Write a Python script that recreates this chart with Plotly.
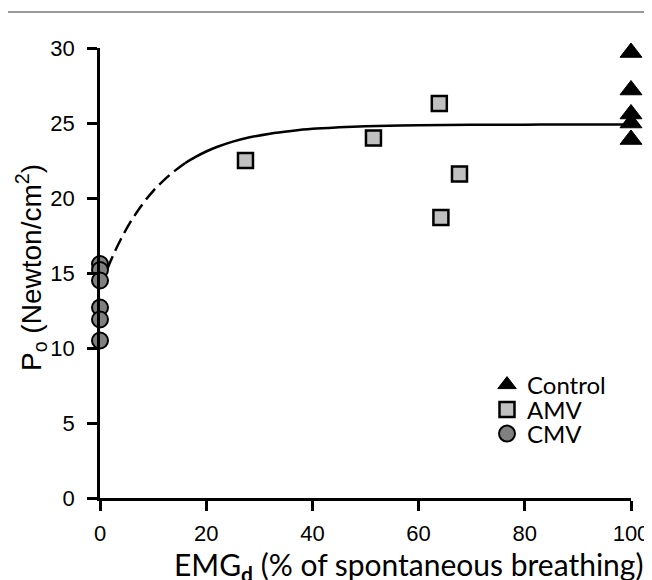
import plotly.graph_objects as go

# Data
control_x = [100, 100, 100, 100, 100]
control_y = [29.7, 27.2, 25.6, 25.0, 23.9]

amv_x = [27.4, 51.5, 63.9, 64.2, 67.7]
amv_y = [22.5, 24.0, 26.3, 18.7, 21.6]

cmv_x = [0, 0, 0, 0, 0, 0]
cmv_y = [15.6, 15.2, 14.5, 12.7, 11.9, 10.5]

# Fitted curve
fit_dash_x = [0, 2, 4, 6, 8, 10, 12, 14, 16]
fit_dash_y = [14.0, 15.80, 17.30, 18.55, 19.59, 20.46, 21.18, 21.79, 22.32]
fit_solid_x = [16, 18, 20, 22, 25, 28, 32, 36, 40, 45, 50, 60, 70, 80, 90, 100]
fit_solid_y = [22.32, 22.74, 23.10, 23.40, 23.76, 24.03, 24.29, 24.47, 24.61, 24.71,
               24.78, 24.85, 24.88, 24.89, 24.90, 24.90]

x_ticks = [0, 20, 40, 60, 80, 100]
y_ticks = [0, 5, 10, 15, 20, 25, 30]

OFF = 8  # page body margin
W, H = 644, 572
L, R, T, B = 100 - OFF, 21, 48 - OFF, 82
PW, PH = W - L - R, H - T - B


def px_x(p):
    return (p - OFF - L) / PW


def px_y(p):
    return (H - B - (p - OFF)) / PH


fig = go.Figure()

fig.add_trace(go.Scatter(x=fit_dash_x, y=fit_dash_y, mode="lines", line_shape="spline",
                         line=dict(color="black", width=2.5, dash="14px,6px"),
                         showlegend=False, hoverinfo="skip"))
fig.add_trace(go.Scatter(x=fit_solid_x, y=fit_solid_y, mode="lines", line_shape="spline",
                         line=dict(color="black", width=2.5),
                         showlegend=False, hoverinfo="skip"))

fig.add_trace(go.Scatter(x=control_x, y=control_y, mode="markers", name="Control",
                         marker=dict(symbol="triangle-up", size=19, color="black",
                                     line=dict(color="black", width=1)),
                         cliponaxis=False, legend="legend"))
fig.add_trace(go.Scatter(x=amv_x, y=amv_y, mode="markers", name="AMV",
                         marker=dict(symbol="square", size=15, color="#c0c0c0",
                                     line=dict(color="black", width=2.5)),
                         cliponaxis=False, legend="legend2"))
fig.add_trace(go.Scatter(x=cmv_x, y=cmv_y, mode="markers", name="CMV",
                         marker=dict(symbol="circle", size=16, color="#808080",
                                     line=dict(color="black", width=2)),
                         cliponaxis=False, legend="legend3"))

leg_font = dict(family="Lato, Open Sans", size=24, color="black")
leg_common = dict(x=px_x(487), xanchor="left", yanchor="middle", font=leg_font,
                  bgcolor="rgba(0,0,0,0)")

fig.update_layout(
    template="none",
    width=W, height=H,
    margin=dict(l=L, r=R, t=T, b=B),
    paper_bgcolor="white", plot_bgcolor="white",
    font=dict(family="Liberation Sans, Arial", color="black", size=22),
    showlegend=True,
    legend=dict(y=px_y(385), **leg_common),
    legend2=dict(y=px_y(410), **leg_common),
    legend3=dict(y=px_y(434), **leg_common),
    shapes=[dict(type="line", xref="paper", yref="paper",
                 x0=px_x(8), x1=px_x(652), y0=px_y(12), y1=px_y(12),
                 line=dict(color="#777777", width=1.5))],
    annotations=[
        dict(text="EMG<sub><b>d</b></sub> (% of spontaneous breathing)",
             xref="paper", yref="paper", x=px_x(408), y=px_y(566),
             xanchor="center", yanchor="middle", showarrow=False,
             font=dict(family="Lato, Open Sans", size=30, color="black")),
        dict(text="P<sub>o</sub> (Newton/cm<sup>2</sup>)",
             xref="paper", yref="paper", x=px_x(31), y=px_y(268),
             xanchor="center", yanchor="middle", showarrow=False, textangle=-90,
             font=dict(family="Liberation Sans, Arial", size=28, color="black")),
    ],
)

fig.update_xaxes(range=[0, 100], tickvals=x_ticks, ticks="outside", ticklen=10, tickwidth=2.5,
                 tickcolor="black", showline=True, linecolor="black", linewidth=2.5,
                 showgrid=False, zeroline=False, automargin=False,
                 tickfont=dict(size=22, color="black"), ticklabelstandoff=4)
fig.update_yaxes(range=[0, 30], tickvals=y_ticks, ticks="outside", ticklen=10, tickwidth=2.5,
                 tickcolor="black", showline=True, linecolor="black", linewidth=2.5,
                 showgrid=False, zeroline=False, automargin=False,
                 tickfont=dict(size=22, color="black"), ticklabelstandoff=8)

fig.write_html("out.html")
